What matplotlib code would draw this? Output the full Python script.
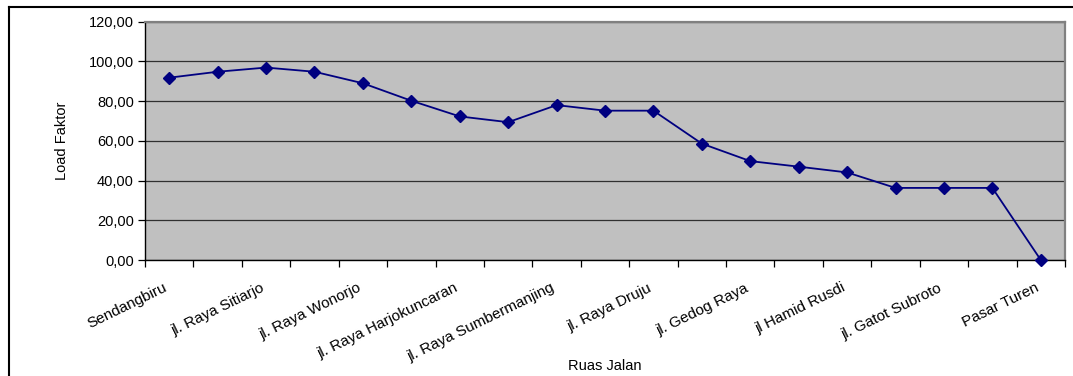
import matplotlib
matplotlib.use("Agg")
import matplotlib.pyplot as plt
from matplotlib.lines import Line2D
from matplotlib.ticker import FuncFormatter, FixedLocator
import numpy as np

# ruas jalan (only every other label is printed on the axis)
ruas = ["Sendangbiru", "", "jl. Raya Sitiarjo", "", "jl. Raya Wonorjo", "",
        "jl. Raya Harjokuncaran", "", "jl. Raya Sumbermanjing", "",
        "jl. Raya Druju", "", "jl. Gedog Raya", "", "jl Hamid Rusdi", "",
        "jl. Gatot Subroto", "", "Pasar Turen"]
load_faktor = [91.8, 94.8, 96.9, 94.8, 89.0, 80.2, 72.3, 69.4, 78.0, 75.2,
               75.2, 58.6, 49.8, 47.0, 44.1, 36.3, 36.3, 36.3, 0.0]
y_ticks = [0, 20, 40, 60, 80, 100, 120]

plt.rcParams['font.family'] = ['Liberation Sans', 'DejaVu Sans']

fig = plt.figure(figsize=(10.73, 3.76), dpi=100)
ax = fig.add_axes([145/1073, 1-260/376, 920/1073, 238.3/376])
ax.set_facecolor('#c0c0c0')

x = np.arange(len(ruas))
ax.plot(x, load_faktor, color='#000080', lw=1.3, marker='D', markersize=6.3,
        clip_on=False, zorder=3)

ax.set_xlim(-0.5, len(ruas)-0.5)
ax.set_ylim(0, 120)
ax.set_yticks(y_ticks)
ax.yaxis.set_major_formatter(FuncFormatter(lambda v, p: f"{v:.2f}".replace('.', ',')))
ax.grid(axis='y', color='#303030', lw=0.9)
ax.set_axisbelow(True)

# category ticks between the points, labels just left of the points
ax.xaxis.set_major_locator(FixedLocator(np.arange(len(ruas)+1) - 0.5))
ax.xaxis.set_minor_locator(FixedLocator(x - 0.12))
ax.set_xticklabels([])
ax.set_xticklabels(ruas, minor=True, rotation=26, ha='right',
                   rotation_mode='anchor', fontsize=11)
ax.tick_params(axis='x', which='major', direction='out', length=5, width=0.9)
ax.tick_params(axis='x', which='minor', length=0, pad=15)
ax.tick_params(axis='y', direction='out', length=5, width=0.9, labelsize=10.5, pad=3)

for s in ['left', 'bottom']:
    ax.spines[s].set_color('black')
    ax.spines[s].set_linewidth(1.0)
for s in ['top', 'right']:
    ax.spines[s].set_color('#808080')
    ax.spines[s].set_linewidth(1.6)

ax.set_ylabel('Load Faktor', fontsize=10.5, labelpad=14)
ax.set_xlabel('Ruas Jalan', fontsize=10.5)
ax.xaxis.set_label_coords(0.5, -0.415)

# chart frame
fig.add_artist(Line2D([9/1073, 1.0], [1-7/376, 1-7/376], transform=fig.transFigure,
                      color='black', lw=1.5))
fig.add_artist(Line2D([9/1073, 9/1073], [1-7/376, 0.0], transform=fig.transFigure,
                      color='black', lw=1.5))

fig.savefig('out.png', dpi=100)
plt.close()
